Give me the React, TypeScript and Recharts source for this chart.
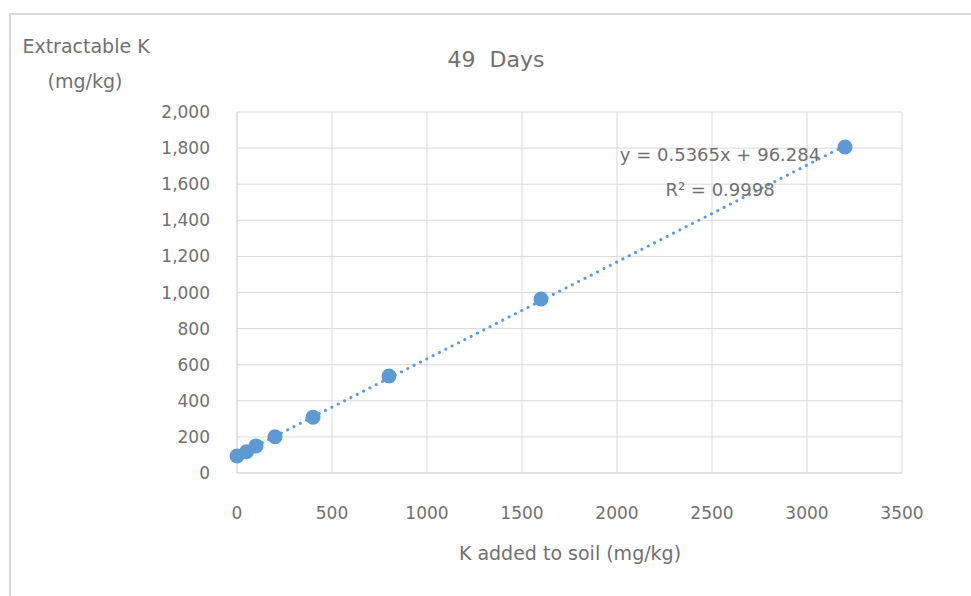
import React from 'react';
import { ScatterChart, Scatter, XAxis, YAxis, CartesianGrid } from 'recharts';

// K added to soil (mg/kg) and the extractable K measured after 49 days
const kAdded = [0, 50, 100, 200, 400, 800, 1600, 3200];
const kExtractable = [94, 118, 150, 201, 309, 537, 964, 1806];

const xTicks = [0, 500, 1000, 1500, 2000, 2500, 3000, 3500];
const yTicks = [0, 200, 400, 600, 800, 1000, 1200, 1400, 1600, 1800, 2000];

// linear trendline fitted to the points
const slope = 0.5365;
const intercept = 96.284;
const trendX = [0, 3200];

const points = kAdded.map((x, i) => ({ x, y: kExtractable[i] }));
const trend = trendX.map((x) => ({ x, y: slope * x + intercept }));

const FONT = '"DejaVu Sans", sans-serif';
const GREY = '#707070';
const BLUE = '#5b9bd5';

const Caption: React.FC<{ x: number; y: number; size: number; children: React.ReactNode }> = ({ x, y, size, children }) => (
  <div
    style={{
      position: 'absolute',
      left: x,
      top: y,
      transform: 'translate(-50%, -50%)',
      fontFamily: FONT,
      fontSize: size,
      color: GREY,
      lineHeight: 1,
      whiteSpace: 'pre',
    }}
  >
    {children}
  </div>
);

const App: React.FC = () => {
  const tick = { fill: GREY, fontSize: 17, fontFamily: FONT };
  return (
    <div style={{ position: 'absolute', left: 0, top: 0, width: 971, height: 596, background: '#fff', overflow: 'hidden' }}>
      <div
        style={{
          position: 'absolute',
          left: 9,
          top: 13,
          right: 0,
          bottom: 0,
          borderTop: '2px solid #d9d9d9',
          borderLeft: '2px solid #d9d9d9',
        }}
      />
      <ScatterChart
        width={971}
        height={596}
        margin={{ top: 112, right: 69, bottom: 0, left: 0 }}
        style={{ position: 'absolute', left: 0, top: 0 }}
      >
        <CartesianGrid stroke="#d9d9d9" strokeWidth={1} />
        <XAxis
          type="number"
          dataKey="x"
          domain={[0, 3500]}
          ticks={xTicks}
          height={123}
          tick={tick}
          tickLine={false}
          tickSize={6}
          tickMargin={28}
          axisLine={{ stroke: '#d9d9d9' }}
        />
        <YAxis
          type="number"
          dataKey="y"
          domain={[0, 2000]}
          ticks={yTicks}
          width={237}
          tick={tick}
          tickLine={false}
          tickSize={6}
          tickMargin={21}
          axisLine={{ stroke: '#d9d9d9' }}
          tickFormatter={(v: number) => v.toLocaleString('en-US')}
        />
        <Scatter
          data={trend}
          line={{ stroke: BLUE, strokeWidth: 3, strokeDasharray: '0.1 7', strokeLinecap: 'round' }}
          shape={() => <g />}
          isAnimationActive={false}
        />
        <Scatter data={points} fill={BLUE} shape={(p: any) => <circle cx={p.cx} cy={p.cy} r={7.5} fill={BLUE} />} isAnimationActive={false} />
      </ScatterChart>
      <Caption x={86} y={46} size={19}>Extractable K</Caption>
      <Caption x={85} y={81} size={19}>(mg/kg)</Caption>
      <Caption x={496} y={60} size={22}>49  Days</Caption>
      <Caption x={570} y={553} size={19}>K added to soil (mg/kg)</Caption>
      <Caption x={720} y={155} size={18}>y = 0.5365x + 96.284</Caption>
      <Caption x={720} y={190} size={18}>R² = 0.9998</Caption>
    </div>
  );
};

export default App;
